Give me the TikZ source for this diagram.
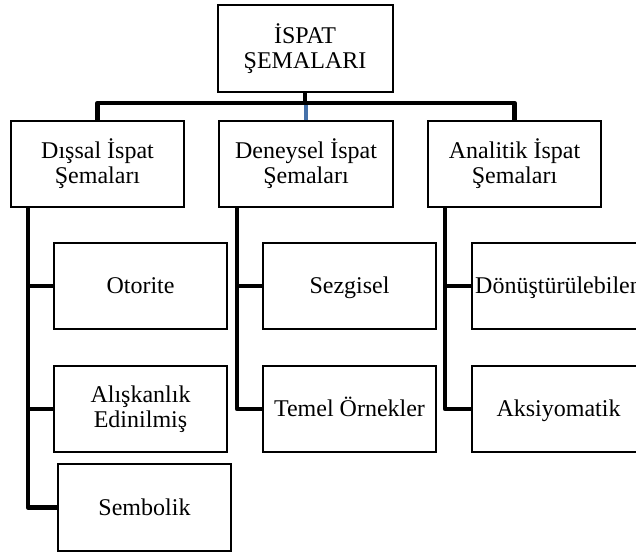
\documentclass[tikz,border=0pt]{standalone}
\usepackage{fontspec}
\setmainfont{Liberation Serif}
\definecolor{linkblue}{RGB}{70,114,170}
% fixed line strut so every label sits at the same height in its box
\newcommand{\linestrut}{\rule[-5pt]{0pt}{25pt}}
\begin{document}
\begin{tikzpicture}[x=1pt,y=-1pt,
  box/.style={draw=black,line width=2pt,fill=white,align=center,
    minimum width=173pt,minimum height=86pt,inner sep=1pt,
    font=\fontsize{24pt}{25pt}\selectfont,
    execute at begin node=\linestrut,execute at end node=\linestrut},
  conn/.style={draw=black,line width=4.6pt,line join=round},
  blueconn/.style={draw=linkblue,line width=4.2pt}]
\useasboundingbox (0,0) rectangle (636,554);

% root
\node[box,minimum width=175pt,minimum height=87pt] (root) at (305,48.5) {İSPAT\\ŞEMALARI};

% main categories
\node[box] (b1) at (97.5,164) {Dışsal İspat\\Şemaları};
\node[box,minimum width=174pt] (b2) at (306,164) {Deneysel İspat\\Şemaları};
\node[box] (b3) at (514.5,164) {Analitik İspat\\Şemaları};

% sub-categories
\node[box] (s11) at (140.5,286) {Otorite};
\node[box] (s12) at (140.5,409) {Alışkanlık\\Edinilmiş};
\node[box,minimum height=87pt] (s13) at (144.5,507.5) {Sembolik};
\node[box] (s21) at (349.5,286) {Sezgisel};
\node[box] (s22) at (349.5,409) {Temel Örnekler};
\node[box] (s31) at (558.5,286) {Dönüştürülebilen};
\node[box] (s32) at (558.5,409) {Aksiyomatik};

% top level connectors
\coordinate (hub) at (306,103);
\draw[blueconn] (hub) -- (b2.north);
\draw[conn] (root.south) -- (root.south |- hub);
\draw[conn] (b1.north) |- (hub) -| (b3.north);

% column trunks
\coordinate (c1) at ([xshift=18pt]b1.south west);
\coordinate (c2) at ([xshift=19pt]b2.south west);
\coordinate (c3) at ([xshift=18pt]b3.south west);
\draw[conn] (c1) |- (s13.west);
\draw[conn] (c1 |- s11.west) -- (s11.west);
\draw[conn] (c1 |- s12.west) -- (s12.west);
\draw[conn] (c2) |- (s22.west);
\draw[conn] (c2 |- s21.west) -- (s21.west);
\draw[conn] (c3) |- (s32.west);
\draw[conn] (c3 |- s31.west) -- (s31.west);
\end{tikzpicture}
\end{document}
